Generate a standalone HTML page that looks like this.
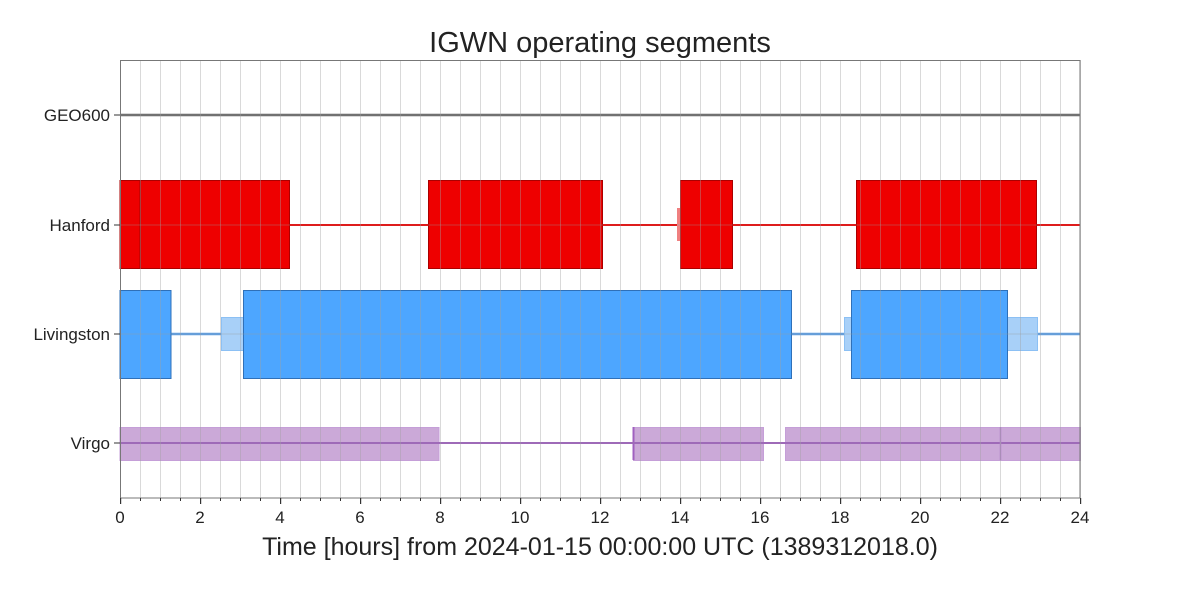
<!DOCTYPE html>
<html><head><meta charset="utf-8"><style>html,body{margin:0;padding:0;background:#fff}svg{display:block}text{font-family:"Liberation Sans",sans-serif;fill:#222}</style></head><body>
<svg width="1200" height="600" viewBox="0 0 1200 600" xmlns="http://www.w3.org/2000/svg">
<defs>
<pattern id="g" x="120" y="0" width="20" height="600" patternUnits="userSpaceOnUse"><rect x="0" y="0" width="1" height="600" fill="rgba(160,160,160,0.4)"/></pattern>
<pattern id="t" x="120" y="0" width="20" height="600" patternUnits="userSpaceOnUse"><rect x="0" y="0" width="1" height="600" fill="#333"/></pattern>
<pattern id="T" x="120" y="0" width="80" height="600" patternUnits="userSpaceOnUse"><rect x="0" y="0" width="1.2" height="600" fill="#333"/></pattern>
</defs>
<text x="600" y="52" font-size="29" text-anchor="middle">IGWN operating segments</text>
<rect x="120" y="60" width="960" height="438" fill="#fff"/>
<!-- GEO600 -->
<line x1="120" y1="115" x2="1080" y2="115" stroke="#666" stroke-width="2.5"/>
<!-- Hanford -->
<line x1="120" y1="225" x2="1080" y2="225" stroke="#e00" stroke-width="2"/>
<rect x="677" y="208" width="4" height="33" fill="#f08080"/>
<g fill="#ee0000" stroke="#a00" stroke-width="1">
<rect x="120" y="180.5" width="20" height="88"/>
<rect x="140.5" y="180.5" width="149" height="88"/>
<rect x="428.5" y="180.5" width="174" height="88"/>
<rect x="680.5" y="180.5" width="52" height="88"/>
<rect x="856.5" y="180.5" width="180" height="88"/>
</g>
<!-- Livingston -->
<line x1="120" y1="334" x2="1080" y2="334" stroke="#5aa0e8" stroke-width="2.5"/>
<g fill="#a8d0f8" stroke="#8cc0f4" stroke-width="1">
<rect x="221.5" y="317.5" width="22" height="33"/>
<rect x="844.5" y="317.5" width="7" height="33"/>
<rect x="1007.5" y="317.5" width="30" height="33"/>
</g>
<g fill="#4da6ff" stroke="#2f70b8" stroke-width="1">
<rect x="120" y="290.5" width="51" height="88"/>
<rect x="243.5" y="290.5" width="548" height="88"/>
<rect x="851.5" y="290.5" width="156" height="88"/>
</g>
<!-- Virgo -->
<g fill="#cba9d8" stroke="#c59fd8" stroke-width="1">
<rect x="120" y="427.5" width="319" height="33"/>
<rect x="633.5" y="427.5" width="130" height="33"/>
<rect x="785.5" y="427.5" width="215" height="33"/>
<rect x="1000.5" y="427.5" width="80" height="33"/>
</g>
<line x1="120" y1="443" x2="1080" y2="443" stroke="#a060c0" stroke-width="2"/>
<line x1="633.5" y1="427" x2="633.5" y2="460" stroke="#a060c0" stroke-width="2"/>
<line x1="1000.5" y1="427" x2="1000.5" y2="460" stroke="#b080c8" stroke-width="1.5"/>
<!-- grid -->
<rect x="120" y="60" width="961" height="438" fill="url(#g)"/>
<line x1="120" y1="115" x2="1080" y2="115" stroke="#999" stroke-width="0.8" opacity="0.6"/>
<line x1="120" y1="225" x2="1080" y2="225" stroke="#999" stroke-width="0.8" opacity="0.5"/>
<line x1="120" y1="334" x2="1080" y2="334" stroke="#999" stroke-width="0.8" opacity="0.5"/>
<line x1="120" y1="443" x2="1080" y2="443" stroke="#999" stroke-width="0.8" opacity="0.5"/>
<rect x="120.5" y="60.5" width="959.5" height="437.5" fill="none" stroke="#777" stroke-width="1"/>
<!-- ticks -->
<rect x="119.5" y="498" width="962" height="3" fill="url(#t)"/>
<rect x="119.5" y="498" width="962" height="6" fill="url(#T)"/>
<g stroke="#333" stroke-width="1"><line x1="114" y1="115" x2="120" y2="115"/><line x1="114" y1="225" x2="120" y2="225"/><line x1="114" y1="334" x2="120" y2="334"/><line x1="114" y1="443" x2="120" y2="443"/></g>
<g font-size="17" text-anchor="end">
<text x="110" y="121">GEO600</text><text x="110" y="231">Hanford</text><text x="110" y="340">Livingston</text><text x="110" y="449">Virgo</text>
</g>
<g font-size="17" text-anchor="middle">
<text x="120" y="523">0</text><text x="200" y="523">2</text><text x="280" y="523">4</text><text x="360" y="523">6</text><text x="440" y="523">8</text><text x="520" y="523">10</text><text x="600" y="523">12</text><text x="680" y="523">14</text><text x="760" y="523">16</text><text x="840" y="523">18</text><text x="920" y="523">20</text><text x="1000" y="523">22</text><text x="1080" y="523">24</text>
</g>
<text x="600" y="555" font-size="25" text-anchor="middle">Time [hours] from 2024-01-15 00:00:00 UTC (1389312018.0)</text>
</svg>
</body></html>
